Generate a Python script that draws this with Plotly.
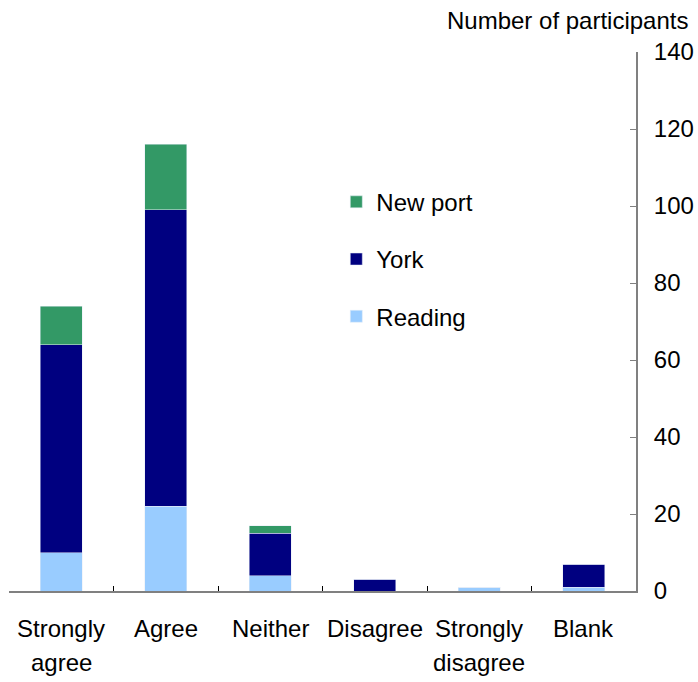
import plotly.graph_objs as go

categories = ['Strongly\nagree', 'Agree', 'Neither', 'Disagree', 'Strongly\ndisagree', 'Blank']
reading = [10, 22, 4, 0, 1, 1]
york = [54, 77, 11, 3, 0, 6]
newport = [10, 17, 2, 0, 0, 0]

font = dict(family='Liberation Sans, Arial, sans-serif', size=24, color='black')

xs = list(range(len(categories)))
fig = go.Figure()
fig.add_trace(go.Bar(x=xs, y=reading, name='Reading', marker_color='#99CCFF',
                     legendgroup='r', legendrank=3))
fig.add_trace(go.Bar(x=xs, y=york, name='York', marker_color='#000080',
                     legendgroup='y', legendrank=2))
fig.add_trace(go.Bar(x=xs, y=newport, name='New port', marker_color='#339966',
                     legendgroup='n', legendrank=1))

# category labels, one annotation per line so the line spacing matches
for i, c in enumerate(categories):
    for j, line in enumerate(c.split('\n')):
        fig.add_annotation(x=i, y=0, xref='x', yref='y', text=line, showarrow=False,
                           yanchor='middle', yshift=-37 - 34 * j, font=font)

fig.add_annotation(x=1, y=1, xref='paper', yref='paper', text='Number of participants',
                   showarrow=False, xanchor='right', yanchor='middle', xshift=54, yshift=32,
                   font=font)

fig.update_layout(
    barmode='stack', bargap=0.6,
    width=698, height=682,
    margin=dict(l=9, r=62, t=52, b=91, autoexpand=False),
    paper_bgcolor='white', plot_bgcolor='white',
    font=font,
    showlegend=True,
    legend=dict(x=0.522, y=0.763, xanchor='left', yanchor='top',
                traceorder='grouped', tracegroupgap=23,
                bgcolor='rgba(0,0,0,0)', font=font, itemwidth=30),
    xaxis=dict(range=[-0.5, 5.5], tickvals=[-0.5, 0.5, 1.5, 2.5, 3.5, 4.5, 5.5],
               showticklabels=False, ticks='inside', ticklen=5, tickcolor='black',
               showline=True, linecolor='#808080', linewidth=2, showgrid=False,
               zeroline=False, automargin=False),
    yaxis=dict(range=[0, 140], dtick=20, side='right', ticks='inside', ticklen=6,
               tickcolor='#808080', showline=True, linecolor='#808080', linewidth=2,
               showgrid=False, zeroline=False, ticklabelstandoff=11, tickfont=font,
               automargin=False),
)

# drop the browser's default 8px body margin so the figure fills the window
fig.write_html('out.html', config={'displayModeBar': False},
               post_script="document.body.style.margin='0';")
